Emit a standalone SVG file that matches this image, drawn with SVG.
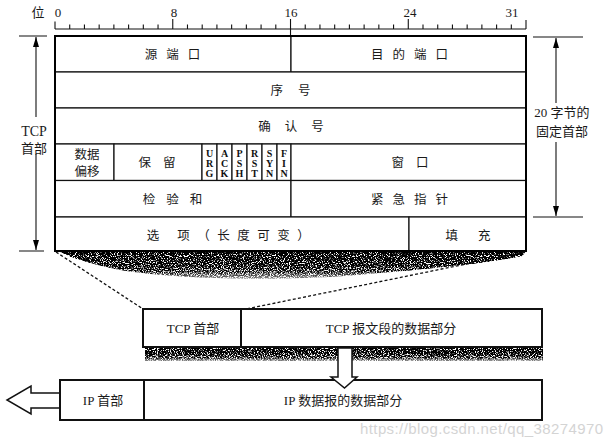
<svg xmlns="http://www.w3.org/2000/svg" width="609" height="446" viewBox="0 0 609 446">
<style>
  .f { fill: #fff; stroke: #111; stroke-width: 1.2; }
  .frame { fill: none; stroke: #000; stroke-width: 2; }
  .t { font-family: "Liberation Serif", "Noto Sans CJK SC", serif; font-size: 12.5px; fill: #1a1a1a; text-anchor: middle; }
  .lab { font-family: "Liberation Serif", "Noto Sans CJK SC", serif; font-size: 13px; fill: #1a1a1a; text-anchor: middle; }
  .flag { font-family: "Liberation Serif", serif; font-size: 10px; font-weight: bold; fill: #111; text-anchor: middle; }
  .ln { stroke: #111; stroke-width: 1.1; fill: none; }
  .dash { stroke: #111; stroke-width: 1.3; fill: none; stroke-dasharray: 3 2.2; }
  .outline { fill: #fff; stroke: #111; stroke-width: 1.5; stroke-linejoin: miter; }
  .wm { font-family: "Liberation Sans", sans-serif; font-size: 15px; fill: #d4d4d4; }
</style>
<defs>
  <marker id="ah" viewBox="0 0 10 6" refX="10" refY="3" markerWidth="10" markerHeight="6" markerUnits="userSpaceOnUse" orient="auto-start-reverse">
    <path d="M0,0 L10,3 L0,6 Z" fill="#000"/>
  </marker>
  <linearGradient id="shg" x1="0" y1="0" x2="0" y2="1">
    <stop offset="0" stop-color="#000" stop-opacity="1"/>
    <stop offset="0.4" stop-color="#000" stop-opacity="0.85"/>
    <stop offset="1" stop-color="#000" stop-opacity="0.2"/>
  </linearGradient>
  <filter id="grain" x="0" y="0" width="1" height="1">
    <feTurbulence type="fractalNoise" baseFrequency="0.85" numOctaves="2" seed="7" result="n"/>
    <feColorMatrix in="n" type="matrix" values="0 0 0 0 0  0 0 0 0 0  0 0 0 0 0  4 0 0 0 -1.35" result="na"/>
    <feComposite in="SourceGraphic" in2="na" operator="arithmetic" k1="2.2" k2="0" k3="0" k4="0"/>
  </filter>
</defs>
<rect width="609" height="446" fill="#fff"/>

<!-- ruler -->
<g id="ruler">
  <text class="lab" x="38" y="17">位</text>
  <text class="lab" x="58" y="17">0</text>
  <text class="lab" x="174" y="17">8</text>
  <text class="lab" x="291" y="17">16</text>
  <text class="lab" x="410" y="17">24</text>
  <text class="lab" x="512" y="17">31</text>
  <path class="ln" d="M55,29 H526 M55,21.5 V29 M526,20 V29 M172.76,19 V29 M290.52,19 V36 M408.28,19 V29
    M69.72,29 v-4.5 M84.44,29 v-4.5 M99.16,29 v-4.5 M113.88,29 v-4.5 M128.6,29 v-4.5 M143.32,29 v-4.5 M158.04,29 v-4.5
    M187.48,29 v-4.5 M202.2,29 v-4.5 M216.92,29 v-4.5 M231.64,29 v-4.5 M246.36,29 v-4.5 M261.08,29 v-4.5 M275.8,29 v-4.5
    M305.24,29 v-4.5 M319.96,29 v-4.5 M334.68,29 v-4.5 M349.4,29 v-4.5 M364.12,29 v-4.5 M378.84,29 v-4.5 M393.56,29 v-4.5
    M423,29 v-4.5 M437.72,29 v-4.5 M452.44,29 v-4.5 M467.16,29 v-4.5 M481.88,29 v-4.5 M496.6,29 v-4.5 M511.32,29 v-4.5"/>
</g>

<!-- shadows -->
<path d="M58,251 L526,251 L522,256 C 480,264 420,270 330,277 C 250,281 170,278 120,270 C 95,265 75,259 58,251 Z" fill="url(#shg)" filter="url(#grain)"/>
<path d="M145,347 L543,347 L543,361 L145,361 Z" fill="url(#shg)" filter="url(#grain)"/>

<!-- TCP header fields -->
<g id="src-port"><rect class="f" x="55" y="36" width="236" height="36"/><text class="t" x="177" y="59" letter-spacing="9">源端口</text></g>
<g id="dst-port"><rect class="f" x="291" y="36" width="235" height="36"/><text class="t" x="414" y="59" letter-spacing="9">目的端口</text></g>
<g id="seq"><rect class="f" x="55" y="72" width="471" height="36"/><text class="t" x="298" y="95" letter-spacing="15">序号</text></g>
<g id="ack"><rect class="f" x="55" y="108" width="471" height="36"/><text class="t" x="298" y="131" letter-spacing="14">确认号</text></g>
<g id="offset"><rect class="f" x="55" y="144" width="59" height="36.5"/><text class="t" x="87" y="159">数据</text><text class="t" x="87" y="176">偏移</text></g>
<g id="reserved"><rect class="f" x="114" y="144" width="88" height="36.5"/><text class="t" x="163" y="167" letter-spacing="12">保留</text></g>
<g id="urg"><rect class="f" x="202" y="144" width="15" height="36.5"/><text class="flag" x="209.5" y="157">U</text><text class="flag" x="209.5" y="167">R</text><text class="flag" x="209.5" y="177">G</text></g>
<g id="ackf"><rect class="f" x="217" y="144" width="15" height="36.5"/><text class="flag" x="224.5" y="157">A</text><text class="flag" x="224.5" y="167">C</text><text class="flag" x="224.5" y="177">K</text></g>
<g id="psh"><rect class="f" x="232" y="144" width="15" height="36.5"/><text class="flag" x="239.5" y="157">P</text><text class="flag" x="239.5" y="167">S</text><text class="flag" x="239.5" y="177">H</text></g>
<g id="rst"><rect class="f" x="247" y="144" width="15" height="36.5"/><text class="flag" x="254.5" y="157">R</text><text class="flag" x="254.5" y="167">S</text><text class="flag" x="254.5" y="177">T</text></g>
<g id="syn"><rect class="f" x="262" y="144" width="15" height="36.5"/><text class="flag" x="269.5" y="157">S</text><text class="flag" x="269.5" y="167">Y</text><text class="flag" x="269.5" y="177">N</text></g>
<g id="fin"><rect class="f" x="277" y="144" width="14" height="36.5"/><text class="flag" x="284" y="157">F</text><text class="flag" x="284" y="167">I</text><text class="flag" x="284" y="177">N</text></g>
<g id="window"><rect class="f" x="291" y="144" width="235" height="36.5"/><text class="t" x="416" y="167" letter-spacing="12">窗口</text></g>
<g id="checksum"><rect class="f" x="55" y="180.5" width="236" height="36.5"/><text class="t" x="178" y="204" letter-spacing="11">检验和</text></g>
<g id="urgent"><rect class="f" x="291" y="180.5" width="235" height="36.5"/><text class="t" x="414" y="204" letter-spacing="9">紧急指针</text></g>
<g id="options"><rect class="f" x="55" y="217" width="354" height="34"/><text class="t" x="232" y="240" letter-spacing="7.5">选 项（长度可变）</text></g>
<g id="padding"><rect class="f" x="409" y="217" width="117" height="34"/><text class="t" x="478" y="240" letter-spacing="20">填充</text></g>
<rect class="frame" x="55" y="36" width="471" height="215"/>

<!-- TCP segment -->
<g id="tcp-header"><rect class="f" x="143" y="309" width="98" height="38" style="stroke-width:2"/><text class="lab" x="193" y="333">TCP 首部</text></g>
<g id="tcp-data"><rect class="f" x="241" y="309" width="301" height="38" style="stroke-width:2"/><text class="lab" x="391" y="333">TCP 报文段的数据部分</text></g>

<!-- IP datagram -->
<g id="ip-header"><rect class="f" x="60" y="380" width="84" height="40" style="stroke-width:2"/><text class="lab" x="103" y="405">IP 首部</text></g>
<g id="ip-data"><rect class="f" x="144" y="380" width="398" height="40" style="stroke-width:2"/><text class="lab" x="343" y="405">IP 数据报的数据部分</text></g>

<!-- connectors -->
<g id="connectors">
  <path class="ln" d="M19,36 H47 M19,251 H44"/>
  <line class="ln" x1="36" y1="117" x2="36" y2="37" marker-end="url(#ah)"/>
  <line class="ln" x1="36" y1="154" x2="36" y2="250" marker-end="url(#ah)"/>
  <path class="ln" d="M533,37 H583 M533,217 H583"/>
  <line class="ln" x1="556" y1="103" x2="556" y2="38" marker-end="url(#ah)"/>
  <line class="ln" x1="556" y1="142" x2="556" y2="216" marker-end="url(#ah)"/>
  <line class="dash" x1="56" y1="252" x2="143" y2="309"/>
  <line class="dash" x1="525" y1="252" x2="246" y2="309"/>
  <path class="outline" d="M338,348 H352 V377 H357 L344.5,388 L331,377 H338 Z"/>
  <path class="outline" d="M59,393 H31 V386 L7,400 L31,414 V408 H59"/>
</g>

<g id="dim-labels">
  <text class="lab" x="34" y="136" style="font-size:14px">TCP</text>
  <text class="lab" x="34" y="153">首部</text>
  <text class="lab" x="562" y="117">20 字节的</text>
  <text class="lab" x="562" y="136">固定首部</text>
</g>

<text class="wm" x="360" y="434" textLength="243">https://blog.csdn.net/qq_38274970</text>
</svg>
